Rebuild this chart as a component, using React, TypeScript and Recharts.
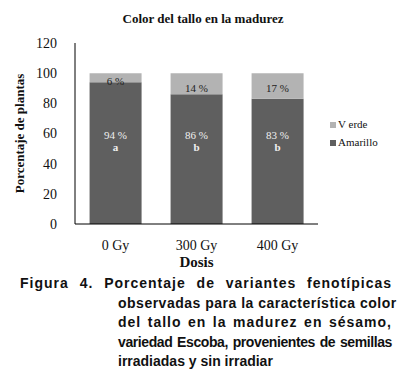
import { BarChart, Bar, XAxis, YAxis, Legend, LabelList } from "recharts";

const dosis = ["0 Gy", "300 Gy", "400 Gy"];
const amarillo = [94, 86, 83];
const verde = [6, 14, 17];
const letras = ["a", "b", "b"];
const yTicks = [0, 20, 40, 60, 80, 100, 120];

const data = dosis.map((d, i) => ({
  dosis: d,
  amarillo: amarillo[i],
  verde: verde[i],
  letra: letras[i],
}));

const serif = "'Liberation Serif', 'Times New Roman', serif";
const sans = "'Liberation Sans', Arial, sans-serif";

const AmarilloLabel = (props: any) => {
  const { x, y, width, height, index } = props;
  const cx = x + width / 2;
  const base = y + height;
  return (
    <g style={{ fontFamily: serif }} fontSize={11} fill="#f0f0f0" textAnchor="middle">
      <text x={cx} y={base - 85}>{amarillo[index]} %</text>
      <text x={cx} y={base - 73} fontWeight="bold">{letras[index]}</text>
    </g>
  );
};

const VerdeLabel = (props: any) => {
  const { x, y, width, index } = props;
  const cx = x + width / 2;
  const off = index === 0 ? 12 : 19;
  return (
    <text x={cx} y={y + off} style={{ fontFamily: serif }} fontSize={11} fill="#222" textAnchor="middle">
      {verde[index]} %
    </text>
  );
};

const LegendBox = () => (
  <div style={{ fontFamily: serif, fontSize: 11, color: "#111", lineHeight: "18px" }}>
    <div>
      <span style={{ display: "inline-block", width: 6, height: 6, background: "#b3b3b3", marginRight: 2 }} />
      V erde
    </div>
    <div>
      <span style={{ display: "inline-block", width: 6, height: 6, background: "#5f5f5f", marginRight: 2 }} />
      Amarillo
    </div>
  </div>
);

const lineStyle: any = { textAlign: "justify", textAlignLast: "justify", whiteSpace: "nowrap" };

export default function App() {
  return (
    <div style={{ position: "absolute", left: 0, top: 0, width: 400, height: 384, background: "#fff" }}>
      <div
        style={{
          position: "absolute",
          left: 0,
          top: 11,
          width: 406,
          textAlign: "center",
          fontFamily: serif,
          fontWeight: "bold",
          fontSize: 13,
          color: "#111",
        }}
      >
        Color del tallo en la madurez
      </div>
      <div style={{ position: "absolute", left: 0, top: 0 }}>
        <BarChart
          width={400}
          height={272}
          data={data}
          margin={{ top: 43, right: 82, left: 25, bottom: 0 }}
          barCategoryGap="18%"
        >
          <XAxis
            dataKey="dosis"
            height={48}
            axisLine={{ stroke: "#000" }}
            tickLine={false}
            tick={{ fontFamily: serif, fontSize: 14, fill: "#111" }}
            tickMargin={10}
            label={{
              value: "Dosis",
              position: "insideBottom",
              offset: 5,
              style: { fontFamily: serif, fontSize: 15, fontWeight: "bold", fill: "#111" },
            }}
          />
          <YAxis
            domain={[0, 120]}
            ticks={yTicks}
            width={50}
            axisLine={{ stroke: "#000" }}
            tickLine={false}
            tick={{ fontFamily: serif, fontSize: 14, fill: "#111" }}
            tickMargin={12}
            label={{
              value: "Porcentaje de plantas",
              angle: -90,
              position: "insideLeft",
              offset: -6,
              style: { fontFamily: serif, fontSize: 13, fontWeight: "bold", fill: "#111", textAnchor: "middle" },
            }}
          />
          <Legend
            layout="horizontal"
            verticalAlign="middle"
            content={() => <LegendBox />}
            wrapperStyle={{ position: "absolute", left: 330, top: 115, width: 70 }}
          />
          <Bar dataKey="amarillo" stackId="a" fill="#5f5f5f" isAnimationActive={false}>
            <LabelList dataKey="amarillo" content={AmarilloLabel} />
          </Bar>
          <Bar dataKey="verde" stackId="a" fill="#b3b3b3" isAnimationActive={false}>
            <LabelList dataKey="verde" content={VerdeLabel} />
          </Bar>
        </BarChart>
      </div>
      <div
        style={{
          position: "absolute",
          left: 20,
          top: 274,
          width: 372,
          fontFamily: sans,
          fontWeight: "bold",
          fontSize: 14,
          lineHeight: "19.5px",
          color: "#111",
        }}
      >
        <div style={{ ...lineStyle, letterSpacing: 1 }}>Figura 4. Porcentaje de variantes fenotípicas</div>
        <div style={{ marginLeft: 98 }}>
          <div style={{ ...lineStyle, letterSpacing: 0.5 }}>observadas para la característica color</div>
          <div style={{ ...lineStyle, letterSpacing: 1 }}>del tallo en la madurez en sésamo,</div>
          <div style={{ ...lineStyle, letterSpacing: -0.4 }}>variedad Escoba, provenientes de semillas</div>
          <div>irradiadas y sin irradiar</div>
        </div>
      </div>
    </div>
  );
}
